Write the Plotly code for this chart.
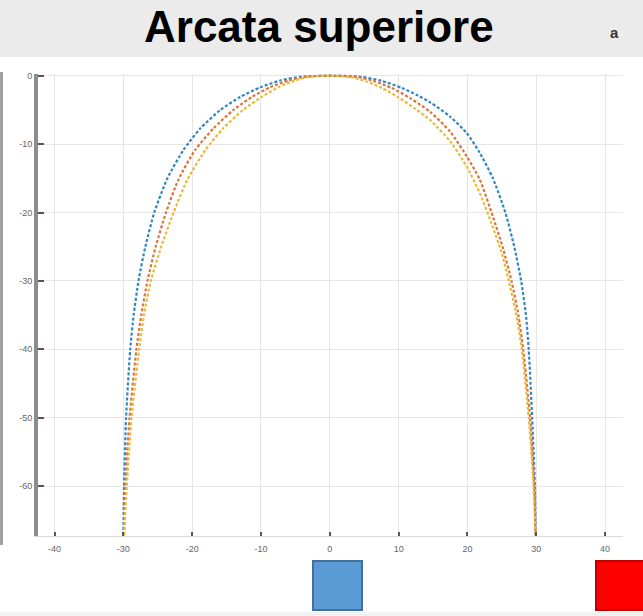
import plotly.graph_objects as go

# Arch profiles (x, y in mm), listed left to right
blue_x = [-30.0, -29.9, -29.6, -29.0, -28.5, -27.8, -26.8, -25.5, -23.6, -21.3, -18.8, -15.9, -13.0, -10.1, -7.2, -4.3, 0.0,
          4.5, 7.5, 10.5, 12.8, 14.6, 17.5, 19.9, 21.8, 23.7, 25.5, 26.8, 27.8, 28.5, 28.9, 29.4, 29.8, 29.9]
blue_y = [-67.2, -60.0, -50.0, -40.0, -35.0, -30.0, -25.0, -20.0, -15.0, -10.9, -7.7, -5.0, -3.1, -1.7, -0.7, -0.15, 0.0,
          -0.15, -0.75, -1.8, -2.9, -3.9, -6.0, -8.4, -11.3, -15.0, -20.0, -25.0, -30.0, -35.0, -40.0, -50.0, -60.0, -67.2]

orange_x = [-29.9, -29.7, -29.1, -28.1, -27.4, -26.5, -25.3, -23.8, -22.0, -19.6, -16.9, -14.0, -11.3, -8.7, -6.0, -3.6, 0.0,
            3.8, 6.3, 9.0, 11.7, 14.6, 17.5, 19.9, 21.8, 23.7, 25.1, 26.4, 27.4, 28.1, 29.1, 29.7, 29.9]
orange_y = [-67.2, -60.0, -50.0, -40.0, -35.0, -30.0, -25.0, -20.0, -15.2, -10.9, -7.7, -5.0, -3.1, -1.7, -0.7, -0.15, 0.0,
            -0.15, -0.75, -1.8, -3.3, -5.3, -8.2, -11.8, -15.2, -20.6, -25.0, -30.0, -35.0, -40.0, -50.0, -60.0, -67.2]

yellow_x = [-29.9, -29.5, -28.8, -27.7, -27.0, -26.0, -24.5, -22.7, -20.7, -18.1, -15.5, -12.6, -9.9, -7.5, -5.1, -2.9, 0.0,
            3.0, 5.2, 7.6, 10.0, 12.5, 14.6, 17.5, 19.9, 21.8, 23.5, 25.0, 26.0, 27.1, 27.9, 28.9, 29.6, 29.9]
yellow_y = [-67.2, -60.0, -50.0, -40.0, -35.0, -30.0, -25.0, -20.0, -15.2, -10.9, -7.7, -5.0, -3.1, -1.7, -0.7, -0.15, 0.0,
            -0.2, -0.8, -1.8, -3.2, -4.9, -6.5, -9.6, -13.3, -17.2, -21.6, -26.0, -30.0, -35.0, -40.0, -50.0, -60.0, -67.2]

x_ticks = [-40, -30, -20, -10, 0, 10, 20, 30, 40]
y_ticks = [0, -10, -20, -30, -40, -50, -60]

W, H = 643, 616

def px(v):
    return v / W

def py(v):
    return 1 - v / H

fig = go.Figure()
for xs, ys, col in [(blue_x, blue_y, "#2f86c4"),
                    (orange_x, orange_y, "#d8763f"),
                    (yellow_x, yellow_y, "#e9b93a")]:
    fig.add_trace(go.Scatter(
        x=xs, y=ys, mode="lines",
        line=dict(color=col, width=2.2, dash="3px,2px", shape="spline", smoothing=0.6),
        showlegend=False, hoverinfo="skip"))

axis_font = dict(family="Liberation Sans, Arial, sans-serif", size=9, color="#666666")

fig.update_layout(
    width=W, height=H,
    margin=dict(l=0, r=0, t=0, b=0),
    paper_bgcolor="white", plot_bgcolor="white",
    xaxis=dict(
        domain=[px(38), px(623)], range=[-42.4, 42.6],
        tickvals=x_ticks, ticktext=[str(v) for v in x_ticks],
        ticks="inside", ticklen=4, tickwidth=2, tickcolor="#555555",
        showgrid=True, gridcolor="#e6e6e6", gridwidth=1,
        showline=True, linecolor="#dadada", linewidth=1,
        zeroline=False, tickfont=axis_font, ticklabelstandoff=4,
        automargin=False, fixedrange=True),
    yaxis=dict(
        domain=[py(536), py(74)], range=[-67.3, 0.25],
        tickvals=y_ticks, ticktext=[str(v) for v in y_ticks],
        ticks="inside", ticklen=6, tickwidth=2, tickcolor="#555555",
        showgrid=True, gridcolor="#e6e6e6", gridwidth=1,
        showline=True, linecolor="#8c8c8c", linewidth=4,
        zeroline=False, tickfont=axis_font, automargin=False, fixedrange=True),
    shapes=[
        # title band
        dict(type="rect", xref="paper", yref="paper", x0=0, x1=1, y0=py(57), y1=1,
             fillcolor="#ebebeb", line=dict(width=0), layer="below"),
        # left edge strip
        dict(type="rect", xref="paper", yref="paper", x0=0, x1=px(3), y0=py(545), y1=py(72),
             fillcolor="#a0a0a0", line=dict(width=0), layer="below"),
        # bottom strip
        dict(type="rect", xref="paper", yref="paper", x0=0, x1=1, y0=0, y1=py(612),
             fillcolor="#f2f2f2", line=dict(width=0), layer="below"),
        # blue swatch
        dict(type="rect", xref="paper", yref="paper", x0=px(313), x1=px(362), y0=py(610), y1=py(561),
             fillcolor="#5B9BD5", line=dict(color="#41719C", width=2), layer="above"),
        # red swatch
        dict(type="rect", xref="paper", yref="paper", x0=px(596), x1=px(648), y0=py(610), y1=py(561),
             fillcolor="#FF0000", line=dict(color="#C00000", width=2), layer="above"),
    ],
    annotations=[
        dict(text="Arcata superiore", xref="paper", yref="paper", x=px(319), y=py(27),
             xanchor="center", yanchor="middle", showarrow=False,
             font=dict(family="Liberation Sans, Arial, sans-serif", size=44, color="black", weight="bold")),
        dict(text="a", xref="paper", yref="paper", x=px(614), y=py(32),
             xanchor="center", yanchor="middle", showarrow=False,
             font=dict(family="Liberation Sans, Arial, sans-serif", size=15, color="#333333", weight="bold")),
    ],
)

fig.write_html("out.html")
